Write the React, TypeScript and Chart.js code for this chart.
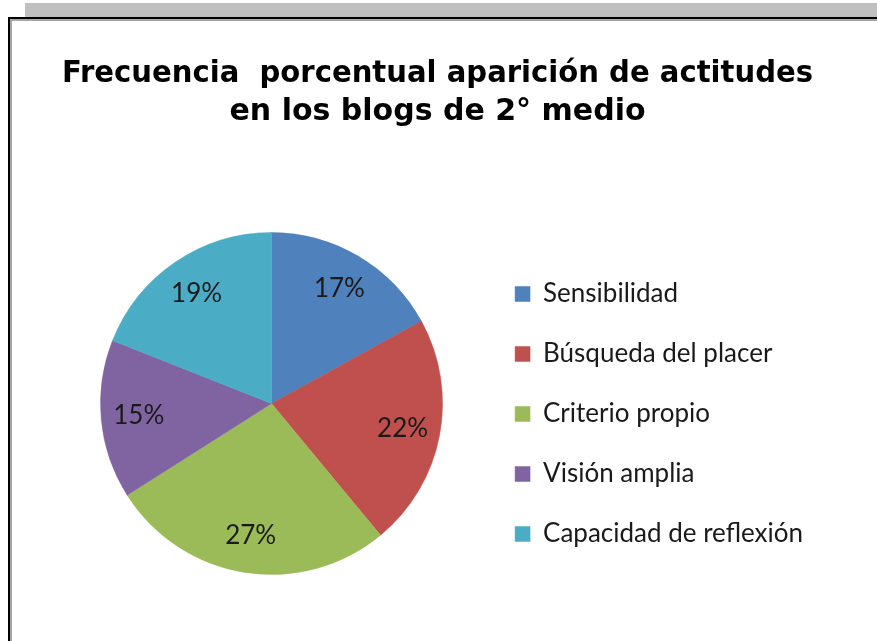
import React, { useEffect, useRef } from "react";
import { Chart, registerables } from "chart.js";

Chart.register(...registerables);

const categories = [
  "Sensibilidad",
  "Búsqueda del placer",
  "Criterio propio",
  "Visión amplia",
  "Capacidad de reflexión",
];
const percentValues = [17, 22, 27, 15, 19];
const sliceColors = ["#4F81BD", "#C0504D", "#9BBB59", "#8064A2", "#4BACC6"];
const titleLines = ["Frecuencia  porcentual aparición de actitudes", "en los blogs de 2° medio"];

const LABEL_FONT = "Lato, 'Noto Sans', sans-serif";

const sliceLabelPlugin = {
  id: "sliceLabels",
  afterDatasetsDraw(chart: any) {
    const meta = chart.getDatasetMeta(0);
    const ctx = chart.ctx;
    ctx.save();
    ctx.font = `26px ${LABEL_FONT}`;
    ctx.fillStyle = "#1a1a1a";
    ctx.textAlign = "center";
    ctx.textBaseline = "middle";
    meta.data.forEach((arc: any, i: number) => {
      const { x, y, startAngle, endAngle, outerRadius } = arc.getProps(
        ["x", "y", "startAngle", "endAngle", "outerRadius"],
        true
      );
      const mid = (startAngle + endAngle) / 2;
      const r = outerRadius * 0.78;
      ctx.fillText(`${percentValues[i]}%`, x + Math.cos(mid) * r, y + Math.sin(mid) * r);
    });
    ctx.restore();
  },
};

function PieChart() {
  const canvasRef = useRef<HTMLCanvasElement | null>(null);
  useEffect(() => {
    if (!canvasRef.current) return;
    const chart = new Chart(canvasRef.current, {
      type: "pie",
      data: {
        labels: categories,
        datasets: [
          {
            data: percentValues,
            backgroundColor: sliceColors,
            borderColor: sliceColors,
            borderWidth: 0.5,
            radius: 171,
          },
        ],
      },
      options: {
        responsive: false,
        animation: false,
        devicePixelRatio: 1,
        layout: { padding: { left: 62, right: 64, top: 0, bottom: 0 } },
        plugins: {
          tooltip: { enabled: false },
          title: {
            display: true,
            text: titleLines,
            color: "#000",
            font: { family: "'DejaVu Sans', sans-serif", size: 30, weight: "bold", lineHeight: 38 / 30 },
            padding: { top: 55, bottom: 35 },
          },
          legend: {
            display: true,
            position: "right",
            fullSize: false,
            align: "center",
            title: {
              display: true,
              text: "",
              font: { size: 10, lineHeight: 2.1 },
              padding: 0,
            },
            labels: {
              boxWidth: 15,
              boxHeight: 15,
              padding: 34,
              color: "#1a1a1a",
              font: { family: LABEL_FONT, size: 26 },
            },
          },
        },
      },
      plugins: [sliceLabelPlugin],
    } as any);
    return () => chart.destroy();
  }, []);
  return <canvas ref={canvasRef} width={877} height={641} style={{ position: "absolute", left: 0, top: 0 }} />;
}

export default function App() {
  return (
    <div
      style={{
        position: "fixed",
        left: 0,
        top: 0,
        width: 877,
        height: 641,
        background: "#fff",
        overflow: "hidden",
      }}
    >
      <div style={{ position: "absolute", left: 25, top: 3, width: 852, height: 14, background: "#c0c0c0" }} />
      <div
        style={{
          position: "absolute",
          left: 8,
          top: 17,
          width: 900,
          height: 700,
          borderLeft: "2px solid #000",
          borderTop: "2px solid #000",
          boxSizing: "border-box",
        }}
      >
        <div
          style={{
            position: "absolute",
            left: 0,
            top: 0,
            right: 0,
            bottom: 0,
            borderLeft: "2px solid #a6a6a6",
            borderTop: "2px solid #a6a6a6",
          }}
        />
      </div>
      <PieChart />
    </div>
  );
}
